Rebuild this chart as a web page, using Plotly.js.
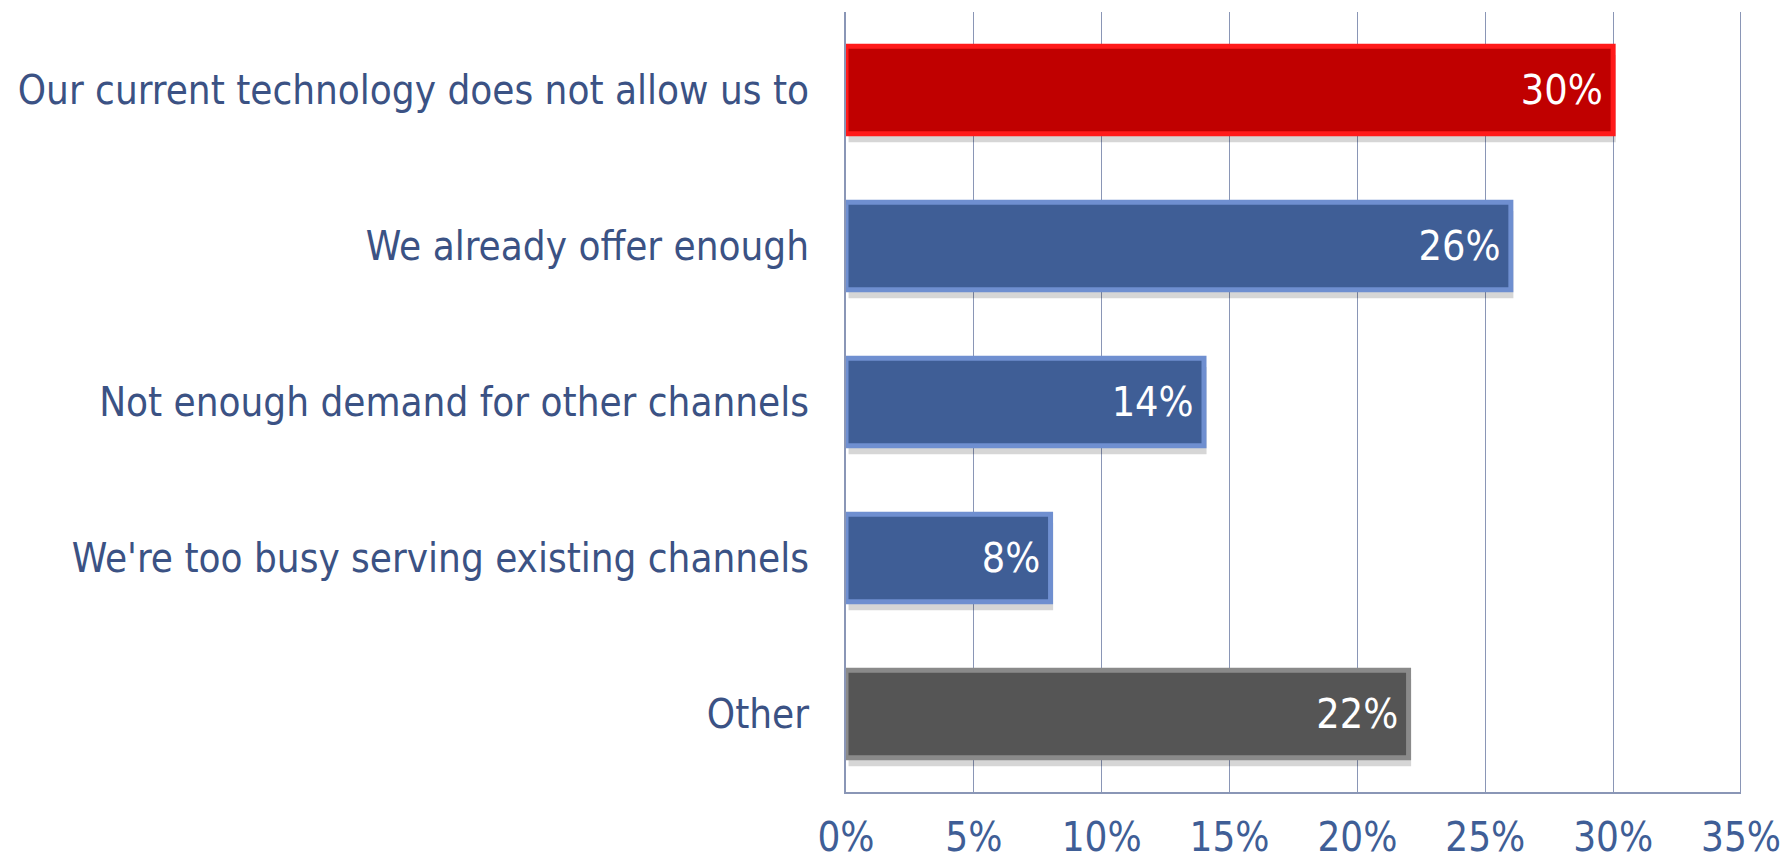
<!DOCTYPE html>
<html>
<head>
<meta charset="utf-8">
<script src="https://cdn.plot.ly/plotly-3.0.1.min.js"></script>
<style>html,body{margin:0;padding:0;background:#fff;}#chart{width:1787px;height:862px;}</style>
</head>
<body>
<div id="chart"></div>
<script>
const categories = [
  "Our current technology does not allow us to",
  "We already offer enough",
  "Not enough demand for other channels",
  "We're too busy serving existing channels",
  "Other"
];
const values = [30, 26, 14, 8, 22];
const valueLabels = ["30%", "26%", "14%", "8%", "22%"];
const tickValues = [0, 5, 10, 15, 20, 25, 30, 35];
const tickLabels = ["0%", "5%", "10%", "15%", "20%", "25%", "30%", "35%"];

const fillColors = ["#C00000", "#3F5E96", "#3F5E96", "#3F5E96", "#555555"];
const edgeColors = ["#FF1A1A", "#6F8FD0", "#6F8FD0", "#6F8FD0", "#8A8A8A"];
const FONT = "'DejaVu Sans Condensed', 'DejaVu Sans', sans-serif";
const BARW = 0.56;

const shadow = {
  type: 'bar', orientation: 'h', x: values, y: categories,
  width: BARW, offset: -BARW / 2 + 0.055, base: 0.1,
  marker: {color: 'rgba(0,0,0,0.16)', line: {width: 0}},
  hoverinfo: 'skip', showlegend: false
};
const bars = {
  type: 'bar', orientation: 'h', x: values, y: categories,
  width: BARW, offset: -BARW / 2,
  marker: {color: fillColors, line: {color: edgeColors, width: 5}},
  text: valueLabels.map(t => t + '\u2009'),
  textposition: 'inside', insidetextanchor: 'end',
  textfont: {family: FONT, size: 41, color: '#FFFFFF'},
  cliponaxis: false, showlegend: false
};

const layout = {
  width: 1787, height: 862,
  margin: {l: 846, r: 46, t: 12, b: 70},
  paper_bgcolor: '#FFFFFF', plot_bgcolor: '#FFFFFF',
  barmode: 'overlay',
  xaxis: {
    range: [0, 35], tickvals: tickValues, ticktext: tickLabels,
    showgrid: true, gridcolor: '#8A96B6', gridwidth: 1,
    zeroline: false, showline: true, linecolor: '#8A96B6', linewidth: 2,
    mirror: false, ticks: '', ticklabelstandoff: 9,
    tickfont: {family: FONT, size: 40, color: '#3F5E96'}, fixedrange: true
  },
  yaxis: {
    range: [4.5, -0.5], showgrid: false, zeroline: false,
    showline: true, linecolor: '#8A96B6', linewidth: 2, ticks: '',
    ticklabelstandoff: 27,
    tickfont: {family: FONT, size: 40, color: '#3B5284'}, fixedrange: true
  },
  shapes: [{type: 'line', xref: 'x', yref: 'paper', x0: 35, x1: 35, y0: 0, y1: 1,
            line: {color: '#8A96B6', width: 2}}]
};

Plotly.newPlot('chart', [shadow, bars], layout, {displayModeBar: false, staticPlot: true});
</script>
</body>
</html>
